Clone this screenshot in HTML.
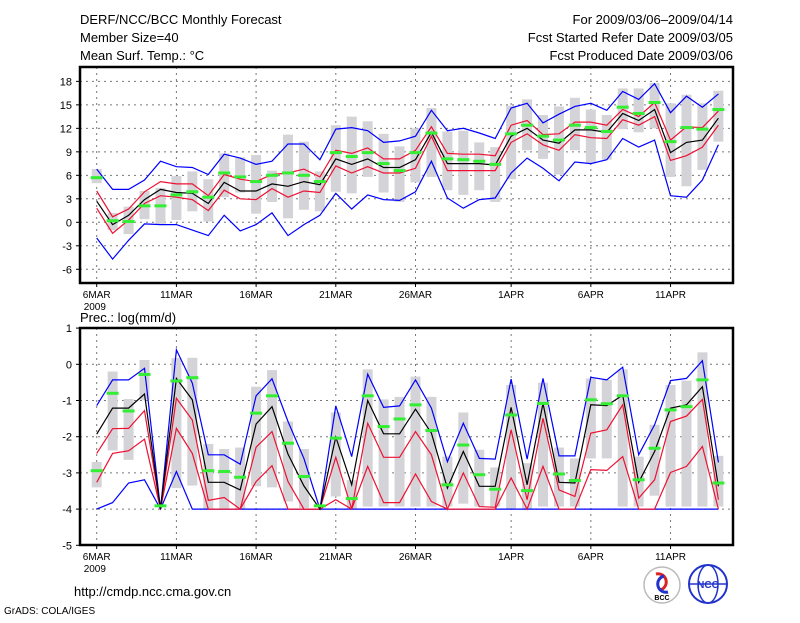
<!DOCTYPE html>
<html><head><meta charset="utf-8"><style>
body{margin:0;background:#fff;width:800px;height:618px;overflow:hidden}
svg text{font-family:"Liberation Sans","DejaVu Sans",sans-serif;fill:#000}
</style></head><body>
<svg id="chart" width="800" height="618" xmlns="http://www.w3.org/2000/svg">
<text x="80" y="24" font-size="13">DERF/NCC/BCC Monthly Forecast</text>
<text x="80" y="42" font-size="13">Member Size=40</text>
<text x="80" y="60" font-size="13">Mean Surf. Temp.: °C</text>
<text x="733" y="24" font-size="13" text-anchor="end">For 2009/03/06–2009/04/14</text>
<text x="733" y="42" font-size="13" text-anchor="end">Fcst Started Refer Date 2009/03/05</text>
<text x="733" y="60" font-size="13" text-anchor="end">Fcst Produced Date 2009/03/06</text>
<text x="80" y="322" font-size="13">Prec.: log(mm/d)</text>
<text x="74" y="596" font-size="13">http://cmdp.ncc.cma.gov.cn</text>
<text x="4" y="614" font-size="10">GrADS: COLA/IGES</text>
<g>
<circle cx="662" cy="585" r="18" fill="#fff" stroke="#bbb" stroke-width="1.5"/>
<path d="M656 574 a8 8 0 1 1 4 16" fill="none" stroke="#d22" stroke-width="3"/>
<path d="M668 592 a8 8 0 1 1 -4 -16" fill="none" stroke="#23c" stroke-width="3"/>
<text x="662" y="600" font-size="7" text-anchor="middle" font-weight="bold">BCC</text>
</g>
<g>
<circle cx="708" cy="584" r="19" fill="#fff" stroke="#23c" stroke-width="2"/>
<ellipse cx="708" cy="584" rx="10" ry="19" fill="none" stroke="#23c" stroke-width="1.5"/>
<line x1="689" y1="584" x2="727" y2="584" stroke="#23c" stroke-width="1.5"/>
<text x="708" y="588" font-size="10" text-anchor="middle" font-weight="bold" style="fill:#23c">NCC</text>
</g>
</svg>
<script>
// Day labels
const dayLabels=["6MAR","11MAR","16MAR","21MAR","26MAR","1APR","6APR","11APR"];
const dayLabelIdx=[0,5,10,15,20,26,31,36];
// Temperature
const tTicks=[-6,-3,0,3,6,9,12,15,18];
const tBlueUp=[6.8,4.2,4.2,5.4,7.8,7.1,7.0,6.1,8.7,8.2,7.4,7.8,10.0,10.0,8.0,11.9,12.1,11.7,10.2,10.4,11.0,14.3,11.7,12.0,11.4,10.7,14.6,15.2,12.7,13.8,14.8,15.2,14.3,16.7,15.7,17.7,14.0,16.1,14.7,16.4];
const tRedUp=[4.0,0.7,1.7,3.9,5.2,4.9,4.9,3.4,6.1,5.5,5.2,6.1,6.3,6.8,5.8,9.2,8.8,9.5,8.1,8.1,9.2,12.2,8.8,8.7,8.7,8.5,12.4,13.0,11.2,11.3,12.8,12.8,12.4,14.4,13.5,15.3,10.5,12.2,12.1,14.2];
const tMean=[2.7,-0.3,0.9,2.9,4.2,3.8,3.7,2.4,5.1,4.0,4.0,4.9,4.6,5.2,4.8,8.1,7.4,8.1,7.0,7.0,8.0,11.5,7.5,7.5,7.5,7.3,11.0,12.0,10.5,10.1,11.8,11.8,11.5,13.9,13.0,14.4,8.9,10.2,10.5,13.3];
const tRedLo=[1.8,-1.4,0.3,2.4,3.4,3.2,2.9,1.5,4.1,3.0,2.9,4.3,3.2,4.0,3.8,7.2,6.3,7.1,6.3,6.3,6.9,11.0,6.6,6.6,6.6,6.6,10.2,11.3,9.9,9.2,11.2,10.8,10.7,13.1,12.4,13.5,7.9,8.5,9.6,12.4];
const tBlueLo=[-2.0,-4.7,-2.3,-0.2,-0.3,-0.3,-1.0,-1.7,0.9,-1.1,-0.3,1.2,-1.7,-0.3,0.9,3.7,1.7,3.5,2.9,2.8,3.9,7.8,3.1,1.8,2.9,3.1,6.3,8.2,6.9,5.3,7.7,7.5,8.0,10.7,9.6,10.5,3.4,3.2,5.4,9.9];
const tBarTop=[6.8,1.2,2.0,4.0,4.4,5.9,6.5,5.5,8.8,8.3,8.6,6.6,11.2,10.3,6.5,12.4,13.5,12.9,11.3,9.7,12.0,14.6,11.6,11.7,10.2,9.6,14.9,15.7,13.7,14.8,15.9,14.4,13.7,17.1,17.1,17.8,15.2,16.3,15.2,16.8];
const tBarBot=[5.0,-1.0,-1.5,0.4,-0.2,0.3,1.4,0.1,3.2,3.8,1.1,2.6,0.5,1.6,1.4,3.9,3.7,5.8,3.8,2.6,5.1,5.8,4.1,3.5,4.1,2.6,5.5,9.2,8.1,6.1,9.2,7.5,8.0,11.9,11.5,12.0,5.8,4.6,6.7,10.3];
const tObs=[5.7,0.2,0.1,2.1,2.1,3.5,3.9,3.2,6.3,5.8,5.2,6.0,6.3,6.0,5.2,8.9,8.4,8.9,7.5,6.6,8.9,11.4,8.1,8.0,7.8,7.4,11.3,12.4,11.0,10.5,12.4,12.1,11.6,14.7,13.9,15.3,10.3,12.1,11.9,14.4];
// Precipitation
const pTicks=[-5,-4,-3,-2,-1,0,1];
const pBlueUp=[-1.14,-0.43,-0.43,-0.11,-4,0.4,-0.52,-2.5,-2.5,-2.76,-0.87,-0.4,-1.58,-2.6,-4,-1.15,-2.55,-0.27,-1.19,-1.15,-0.43,-1.21,-2.69,-1.63,-2.6,-2.62,-0.41,-2.62,-0.39,-2.53,-2.53,-0.36,-0.43,-0.08,-2.5,-1.67,-0.45,-0.39,0.1,-2.71];
const pMean=[-1.93,-1.21,-1.21,-0.82,-4,-0.39,-0.98,-3.26,-3.26,-3.47,-1.65,-1.17,-2.48,-3.36,-4,-2.01,-3.33,-1.0,-1.92,-1.92,-1.24,-1.9,-3.42,-2.41,-3.37,-3.37,-1.19,-3.33,-1.08,-3.26,-3.28,-1.12,-1.14,-0.85,-3.26,-2.41,-1.21,-1.12,-0.62,-3.37];
const pRed1=[-2.46,-1.78,-1.77,-1.28,-4,-0.94,-1.54,-3.76,-3.68,-4,-2.29,-1.86,-3.24,-4,-4,-2.57,-4,-1.63,-2.57,-2.57,-1.86,-2.5,-4,-3.0,-3.93,-3.95,-1.81,-3.74,-1.49,-3.47,-3.65,-1.9,-1.81,-1.12,-3.7,-3.19,-1.58,-1.43,-0.97,-3.74];
const pRed2=[-3.26,-2.46,-2.39,-2.07,-4,-1.77,-2.46,-4,-4,-4,-3.24,-2.8,-4,-4,-4,-3.74,-4,-2.82,-3.82,-3.82,-3.03,-3.79,-4,-4,-4,-4,-3.14,-4,-2.82,-4,-4,-2.91,-2.93,-2.55,-4,-4,-2.99,-2.82,-2.27,-4];
const pBlueLo=[-4,-3.82,-3.28,-3.19,-4,-2.96,-4,-4,-4,-4,-4,-4,-4,-4,-4,-4,-4,-4,-4,-4,-4,-4,-4,-4,-4,-4,-4,-4,-4,-4,-4,-4,-4,-4,-4,-4,-4,-4,-4,-4];
const pBarTop=[-2.7,-0.2,-0.96,0.12,null,0.17,0.18,-2.2,-2.34,-2.3,-0.62,-0.16,-1.58,-2.34,null,-1.33,-3.2,-0.14,-0.97,-0.9,-0.34,-0.9,-2.55,-1.33,-2.36,-2.85,-0.57,-2.73,-0.51,-2.3,-2.6,-0.39,-0.43,-0.14,-2.55,-1.67,-0.57,-0.45,0.33,-2.53];
const pBarBot=[-3.4,-2.38,-2.64,-0.98,null,-3.42,-3.35,-4,-4,-4,-3.37,-3.4,-3.79,-3.97,null,-3.65,-4,-3.93,-3.93,-3.93,-3.93,-3.93,-3.93,-3.85,-3.93,-3.93,-4,-4,-3.93,-3.93,-3.93,-2.6,-2.6,-3.93,-3.93,-3.63,-3.93,-3.93,-3.93,-3.93];
const pObs=[-2.94,-0.8,-1.29,-0.28,-3.91,-0.46,-0.37,-2.94,-2.96,-3.12,-1.35,-0.87,-2.18,-3.1,-3.91,-2.04,-3.71,-0.87,-1.72,-1.51,-1.12,-1.83,-3.33,-2.23,-3.05,-3.45,-1.4,-3.49,-1.08,-3.03,-3.21,-0.98,-1.09,-0.87,-3.19,-2.32,-1.26,-1.17,-0.43,-3.28];

const NS='http://www.w3.org/2000/svg';
const svg=document.getElementById('chart');
const X0=80,X1=733;
function xDay(d){return 96.7+15.94*d;}
function mk(tag,attrs,parent){const e=document.createElementNS(NS,tag);for(const k in attrs)e.setAttribute(k,attrs[k]);(parent||svg).appendChild(e);return e;}

function panel(cfg){
  const g=mk('g',{});
  
  
  const y=cfg.y;
  // grid
  cfg.ticks.forEach(t=>{
    if(t>cfg.min&&t<cfg.max){const l=mk('line',{x1:X0,x2:X1,y1:y(t),y2:y(t),stroke:'#777','stroke-dasharray':'2,4','stroke-width':1},g);
    }
    const tk=mk('line',{x1:X0-4,x2:X0,y1:y(t),y2:y(t),stroke:'#000'},g);
    const tx=mk('text',{x:X0-8,y:y(t)+4,'font-size':11,'text-anchor':'end'},g);
    tx.textContent=t;
    
    
  });
  dayLabelIdx.forEach((d,i)=>{
    const xx=xDay(d);
    const l=mk('line',{x1:xx,x2:xx,y1:cfg.top,y2:cfg.bot,stroke:'#777','stroke-dasharray':'2,4'},g);
    
    mk('line',{x1:xx,x2:xx,y1:cfg.bot,y2:cfg.bot+4,stroke:'#000'},g);
    const tx=mk('text',{x:xx,y:cfg.bot+15,'font-size':10,'text-anchor':'middle'},g);
    tx.textContent=dayLabels[i];
    
    
  });
  const yr=mk('text',{x:xDay(0)-13,y:cfg.bot+27,'font-size':10},g);
  yr.textContent='2009';
  
  
  // bars
  cfg.barTop.forEach((t,d)=>{
    if(t===null)return;
    const b=cfg.barBot[d];
    const r=mk('rect',{x:xDay(d)-5,y:y(t),width:10,height:Math.max(1,y(b)-y(t)),fill:'#d4d4d8'},g);
    
    
  });
  // lines
  cfg.lines.forEach(([arr,col,nm])=>{
    const p=mk('polyline',{points:arr.map((v,d)=>xDay(d).toFixed(1)+','+y(v).toFixed(1)).join(' '),fill:'none',stroke:col,'stroke-width':1.2},g);
    
    
  });
  cfg.obs.forEach((v,d)=>{
    const r=mk('rect',{x:xDay(d)-6,y:y(v)-1.5,width:12,height:3,fill:'#33ee33'},g);
    
    
  });
  const f=mk('rect',{x:X0,y:cfg.top,width:X1-X0,height:cfg.bot-cfg.top,fill:'none',stroke:'#000','stroke-width':2.5},g);
  
  
}
panel({name:'temperature-panel',top:67,bot:283,min:-8,max:20,y:v=>222.3-7.83*v,ticks:tTicks,
  barTop:tBarTop,barBot:tBarBot,obs:tObs,
  lines:[[tBlueUp,'#0000ff','temp-max-line'],[tBlueLo,'#0000ff','temp-min-line'],[tRedUp,'#ee1133','temp-upper-line'],[tRedLo,'#ee1133','temp-lower-line'],[tMean,'#000','temp-mean-line']]});
panel({name:'precip-panel',top:328,bot:545,min:-5,max:1,y:v=>364.3-36.2*v,ticks:pTicks,
  barTop:pBarTop,barBot:pBarBot,obs:pObs,
  lines:[[pBlueUp,'#0000ff','precip-max-line'],[pBlueLo,'#0000ff','precip-min-line'],[pRed1,'#ee1133','precip-upper-line'],[pRed2,'#ee1133','precip-lower-line'],[pMean,'#000','precip-mean-line']]});
</script>
</body></html>
